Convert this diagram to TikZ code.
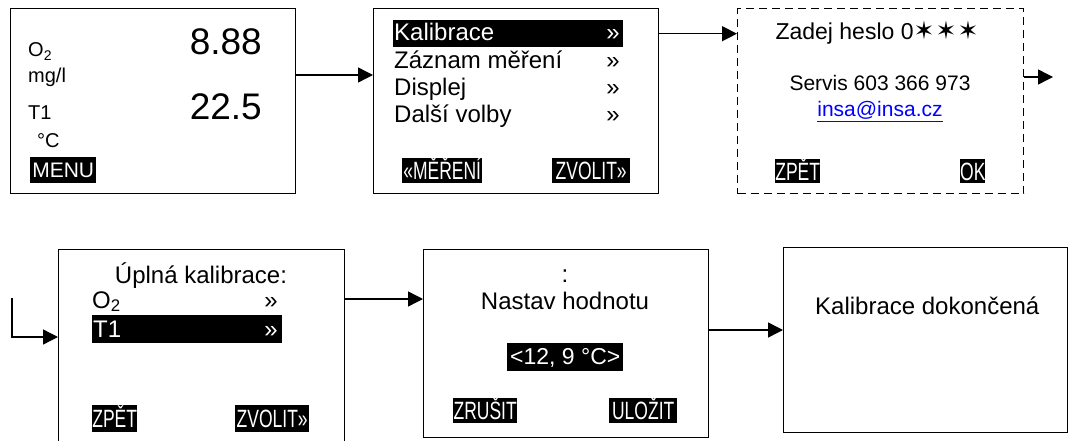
\documentclass[tikz,border=0pt]{standalone}
\usepackage{fontspec}
\setmainfont{Liberation Sans}
\newfontfamily\narrow[FakeStretch=0.7]{Liberation Sans}
\newfontfamily\symfont{DejaVu Sans}
\usetikzlibrary{arrows.meta}
\tikzset{
  screen/.style={draw=black, line width=1.4pt, inner sep=0pt, anchor=north west},
  dscreen/.style={screen, dash pattern=on 8pt off 5pt},
  arr/.style={line width=1.4pt, -{Triangle[length=15pt,width=15pt]}},
  hlbar/.style={fill=black, inner sep=0pt, anchor=north west},
  btn/.style={fill=black, text=white, inner sep=0pt, anchor=north west,
    font=\narrow\fontsize{25}{25}\selectfont, text height=18pt, text depth=0pt},
  lbl/.style={inner sep=0pt, anchor=base west},
  lblr/.style={inner sep=0pt, anchor=base east},
  lblc/.style={inner sep=0pt, anchor=base},
  big/.style={font=\fontsize{24}{24}\selectfont},
  mid/.style={font=\fontsize{21}{21}\selectfont},
  small/.style={font=\fontsize{20}{20}\selectfont},
  huge/.style={font=\fontsize{37}{37}\selectfont},
}
\begin{document}
\begin{tikzpicture}[x=1pt,y=-1pt]
\useasboundingbox (0,0) rectangle (1068,441);
% boxes
\node[screen, minimum width=285pt, minimum height=185pt] (b1) at (10,8) {};
\node[screen, minimum width=285pt, minimum height=185pt] (b2) at (373,8) {};
\node[dscreen, minimum width=286pt, minimum height=185pt] (b3) at (737,8) {};
\node[screen, minimum width=286pt, minimum height=215pt] (b4) at (58,249) {};
\node[screen, minimum width=285pt, minimum height=188pt] (b5) at (423,249) {};
\node[screen, minimum width=284pt, minimum height=185pt] (b6) at (783,247) {};

% box 1
\node[lbl, small] (o2a) at (28,57) {O\textsubscript{2}};
\node[lbl, small] (mgl) at (28,83) {mg/l};
\node[lbl, small] (t1a) at (28,120) {T1};
\node[lbl, small] (degc) at (37,147) {°C};
\node[lblr, huge] (v1) at (262,55) {8.88};
\node[lblr, huge] (v2) at (262,120) {22.5};
\node[btn, font=\fontsize{21}{21}\selectfont, text height=15pt, minimum width=66pt, minimum height=26pt] (menu) at (30,157) {MENU};

% box 2
\node[hlbar, minimum width=230pt, minimum height=27pt] (kbar) at (393,20) {};
\node[lbl, big, text=white] (kal) at (394,41) {Kalibrace};
\node[lblr, big, text=white] (kr) at (620,41) {»};
\node[lbl, big] (zaz) at (394,69) {Záznam měření};
\node[lblr, big] (zr) at (620,69) {»};
\node[lbl, big] (dis) at (394,96) {Displej};
\node[lblr, big] (dr) at (620,96) {»};
\node[lbl, big] (dal) at (394,123) {Další volby};
\node[lblr, big] (dlr) at (620,123) {»};
\node[btn, minimum width=80pt, minimum height=25pt] (mer) at (402,158) {«MĚŘENÍ};
\node[btn, minimum width=78pt, minimum height=25pt] (zv1) at (552,158) {ZVOLIT»};

% box 3
\node[lblc, font=\fontsize{23}{23}\selectfont] (heslo) at (877,40) {Zadej heslo 0{\symfont\fontsize{25}{25}\selectfont ✶\hspace{1pt}✶\hspace{1pt}✶}};
\node[lblc, mid] (serv) at (880,91) {Servis 603 366 973};
\node[lblc, mid, text=blue] (mail) at (880,117) {\underline{insa@insa.cz}};
\node[btn, minimum width=45pt, minimum height=24pt] (zp1) at (775,159) {ZPĚT};
\node[btn, minimum width=25pt, minimum height=24pt] (ok) at (960,159) {OK};

% box 4
\node[lblc, big] (upl) at (201,283) {Úplná kalibrace:};
\node[lbl, big] (o2b) at (92,308) {O\textsubscript{2}};
\node[lblr, big] (or) at (278,308) {»};
\node[hlbar, minimum width=190pt, minimum height=28pt] (tbar) at (92,315) {};
\node[lbl, big, text=white] (t1b) at (93,337) {T1};
\node[lblr, big, text=white] (tr) at (278,337) {»};
\node[btn, minimum width=45pt, minimum height=27pt] (zp2) at (92,405) {ZPĚT};
\node[btn, minimum width=74pt, minimum height=27pt] (zv2) at (235,405) {ZVOLIT»};

% box 5
\node[lblc, big] (colon) at (565,282) {:};
\node[lblc, big] (nast) at (565,309) {Nastav hodnotu};
\node[btn, font=\fontsize{23}{23}\selectfont, text height=16.5pt, text depth=2pt, minimum width=116pt, minimum height=28pt] (val) at (507,343) {<12, 9 °C>};
\node[btn, minimum width=64pt, minimum height=25pt] (zru) at (453,398) {ZRUŠIT};
\node[btn, minimum width=68pt, minimum height=25pt] (ulo) at (609,398) {ULOŽIT};

% box 6
\node[lbl, big] (done) at (815,314) {Kalibrace dokončená};

% connectors
\coordinate (c3) at (1053,77);
\coordinate (c4) at (12,298);
\draw[arr] (b1.east |- 0,75) -- (b2.west |- 0,75);
\draw[arr] (b2.east |- kbar) -- (b3.west |- kbar);
\draw[arr] (b3.east |- c3) -- (c3);
\draw[arr] (c4) |- (b4.west |- 0,337);
\draw[arr] (b4.east |- 0,299) -- (b5.west |- 0,299);
\draw[arr] (b5.east |- 0,330) -- (b6.west |- 0,330);
\end{tikzpicture}
\end{document}
